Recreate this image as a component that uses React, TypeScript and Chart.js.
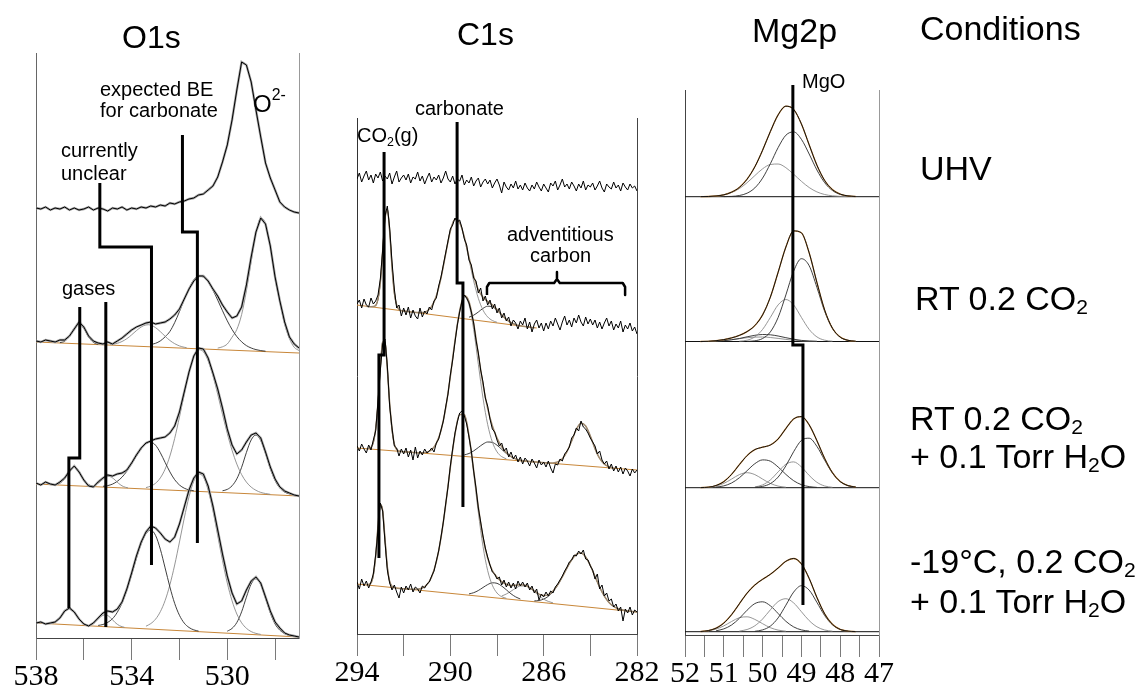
import React, { useEffect, useRef } from "react";
import { Chart, registerables } from "chart.js";

Chart.register(...registerables);

const SANS = "'Liberation Sans', Arial, Helvetica, sans-serif";
const SERIF = "'Liberation Serif', 'Times New Roman', serif";

// ================= O1s (binding energy grid 538 -> 527, step 0.2 eV) =================
const O1S_START = 538;
const O1S_STEP = -0.2;
const O1S_TICKS = [538, 536, 534, 532, 530, 528];
const O1S_LABELS = [538, 534, 530];

const O1S_UHV = [430, 429, 431, 428, 430, 429, 431, 428, 430, 428, 429, 431, 428, 430, 429, 427, 430, 429, 431, 428,
  430, 429, 431, 430, 432, 431, 433, 432, 435, 434, 436, 437, 439, 440, 443, 444, 448, 452, 461, 476,
  493, 518, 548, 576, 573, 556, 528, 501, 475, 460, 448, 436, 431, 428, 426, 425];
const O1S_RT = [297, 296, 298, 297, 296, 298, 298, 302, 309, 316, 311, 302, 297, 295, 294, 296, 294, 297, 300, 304,
  308, 311, 313, 315, 316, 314, 315, 316, 319, 323, 329, 339, 349, 357, 362, 362, 357, 349, 342, 333,
  326, 320, 322, 331, 353, 381, 406, 420, 414, 392, 361, 337, 316, 301, 294, 290];
const O1S_H2O = [155, 153, 156, 154, 153, 156, 160, 167, 172, 166, 158, 152, 151, 156, 160, 163, 162, 164, 165, 168,
  175, 183, 190, 195, 197, 199, 200, 201, 205, 212, 226, 246, 266, 282, 290, 289, 280, 265, 249, 230,
  209, 193, 184, 188, 196, 203, 205, 200, 186, 171, 159, 151, 147, 145, 143, 142];
const O1S_LT = [15, 16, 14, 15, 16, 20, 27, 30, 26, 19, 14, 12, 15, 20, 25, 27, 26, 29, 36, 49,
  65, 82, 96, 106, 112, 110, 105, 99, 96, 101, 114, 131, 148, 160, 166, 164, 152, 132, 108, 84,
  62, 45, 34, 37, 48, 57, 61, 55, 41, 27, 16, 10, 5, 3, 2, 1];

const O1S_RT_BASE = [[538, 296], [527, 285]];
const O1S_RT_GAS = [[537.0, 295.3], [536.8, 296.8], [536.6, 301.8], [536.4, 309.9], [536.2, 314.2], [536.0, 309.5], [535.8, 301], [535.6, 295.6], [535.4, 293.7]];
const O1S_RT_BROAD = [[534.9, 293.5], [534.7, 294.1], [534.5, 295.5], [534.3, 297.8], [534.1, 301.1], [533.9, 305.3], [533.7, 309.3], [533.5, 312.3], [533.3, 313.3], [533.1, 311.9], [532.9, 308.5], [532.7, 304.1], [532.5, 299.5], [532.3, 295.8], [532.1, 293.1], [531.9, 291.3], [531.7, 290.3]];
const O1S_RT_CARB = [[533.2, 293.5], [533.0, 294.7], [532.8, 297.1], [532.6, 301.2], [532.4, 306.6], [532.2, 315.4], [532.0, 326.4], [531.8, 338.4], [531.6, 349.7], [531.4, 358.2], [531.2, 362], [531.0, 360.8], [530.8, 355.9], [530.6, 347.8], [530.4, 337.9], [530.2, 327.3], [530.0, 317.2], [529.8, 308.5], [529.6, 301.4], [529.4, 296.2], [529.2, 292.4], [529.0, 290], [528.8, 288.4], [528.6, 287.4], [528.4, 286.8]];
const O1S_RT_OX = [[530.4, 289.9], [530.2, 291.2], [530.0, 294], [529.8, 300.8], [529.6, 308.6], [529.4, 323.4], [529.2, 347.2], [529.0, 376.4], [528.8, 405], [528.6, 419.9], [528.4, 414.5], [528.2, 391.1], [528.0, 359.2], [527.8, 335.8], [527.6, 313.6], [527.4, 299.4], [527.2, 290.7], [527.0, 287.5]];

const O1S_H2O_BASE = [[538, 154], [527, 142]];
const O1S_H2O_GAS = [[537.2, 153.4], [537.0, 154.8], [536.8, 159.5], [536.6, 167.2], [536.4, 171.3], [536.2, 166.7], [536.0, 158.6], [535.8, 153.5], [535.6, 151.7]];
const O1S_H2O_SMALL = [[535.55, 152.8], [535.35, 155.6], [535.15, 159.7], [534.95, 161.6], [534.75, 159.2], [534.55, 154.7], [534.35, 151.5], [534.15, 150.1]];
const O1S_H2O_BROAD = [[535.2, 151.7], [535.0, 152.4], [534.8, 153.9], [534.6, 156.7], [534.4, 160.9], [534.2, 166.8], [534.0, 174.1], [533.8, 182], [533.6, 189.1], [533.4, 194.1], [533.2, 195.8], [533.0, 192.8], [532.8, 185.3], [532.6, 175.6], [532.4, 166.1], [532.2, 158.3], [532.0, 153], [531.8, 149.8], [531.6, 148.1], [531.4, 147.2]];
const O1S_H2O_CARB = [[533.4, 150.4], [533.2, 151.9], [533.0, 154.7], [532.8, 160.1], [532.6, 168.9], [532.4, 182], [532.2, 199.6], [532.0, 220.9], [531.8, 243.7], [531.6, 265], [531.4, 281], [531.2, 288.3], [531.0, 286.3], [530.8, 277.1], [530.6, 262.2], [530.4, 243.7], [530.2, 223.7], [530.0, 204.6], [529.8, 187.7], [529.6, 173.9], [529.4, 163.4], [529.2, 155.9], [529.0, 150.9], [528.8, 147.7], [528.6, 145.6], [528.4, 144.5], [528.2, 143.7]];
const O1S_H2O_OX = [[530.2, 147.2], [530.0, 148.6], [529.8, 152.2], [529.6, 159.2], [529.4, 170.7], [529.2, 185.5], [529.0, 198.1], [528.8, 203], [528.6, 197.6], [528.4, 184.6], [528.2, 169.4], [528.0, 157.5], [527.8, 150], [527.6, 145.9], [527.4, 144.1], [527.2, 143]];

const O1S_LT_BASE = [[538, 15], [527, 1]];
const O1S_LT_GAS = [[537.4, 14.5], [537.2, 15.7], [537.0, 19.8], [536.8, 26.7], [536.6, 30.2], [536.4, 26.2], [536.2, 18.8], [536.0, 14.2], [535.8, 12.5]];
const O1S_LT_SMALL = [[535.7, 13.7], [535.5, 16.7], [535.3, 21.1], [535.1, 23.3], [534.9, 20.7], [534.7, 15.7], [534.5, 12.2], [534.3, 10.7]];
const O1S_LT_BROAD = [[535.4, 12.6], [535.2, 13.5], [535.0, 15.6], [534.8, 19.3], [534.6, 25.7], [534.4, 35.1], [534.2, 47.9], [534.0, 63.3], [533.8, 79.7], [533.6, 94.2], [533.4, 104.4], [533.2, 107.9], [533.0, 102.6], [532.8, 88.8], [532.6, 70.1], [532.4, 51], [532.2, 34.6], [532.0, 22.7], [531.8, 14.9], [531.6, 10.5], [531.4, 8.1], [531.2, 6.9]];
const O1S_LT_CARB = [[533.4, 11.8], [533.2, 14.4], [533.0, 18.8], [532.8, 26.3], [532.6, 37.5], [532.4, 53.2], [532.2, 73], [532.0, 96], [531.8, 119.8], [531.6, 141.2], [531.4, 156.9], [531.2, 164], [531.0, 161.1], [530.8, 147.8], [530.6, 127.2], [530.4, 102.3], [530.2, 77.5], [530.0, 55.1], [529.8, 37.2], [529.6, 24], [529.4, 15.2], [529.2, 9.7], [529.0, 6.4], [528.8, 4.6], [528.6, 3.6]];
const O1S_LT_OX = [[530.0, 6.8], [529.8, 9.6], [529.6, 15.5], [529.4, 26.2], [529.2, 40.8], [529.0, 54], [528.8, 59.3], [528.6, 53.5], [528.4, 39.8], [528.2, 25.1], [528.0, 14], [527.8, 7.8], [527.6, 4.3], [527.4, 2.6]];

const O1S_MARK_CARB = [[531.875, 503], [531.875, 406], [531.25, 406], [531.25, 95]];
const O1S_MARK_UNCLEAR = [[535.33, 455], [535.33, 391], [533.17, 391], [533.17, 73]];
const O1S_MARK_GAS1 = [[536.17, 331], [536.17, 180], [536.625, 180], [536.625, 30]];
const O1S_MARK_GAS2 = [[535.08, 336], [535.08, 11]];

// ================= C1s (grid 294 -> 282, step 0.1 eV) =================
const C1S_START = 294;
const C1S_STEP = -0.1;
const C1S_TICKS = [294, 292, 290, 288, 286, 284, 282];
const C1S_LABELS = [294, 290, 286, 282];

const C1S_UHV = [455, 461, 452, 458, 463, 454, 459, 451, 460, 456, 462,
  453, 458, 455, 461, 450, 457, 463, 452, 456, 459,
  454, 460, 451, 457, 455, 462, 453, 458, 450, 456,
  461, 452, 457, 454, 459, 451, 456, 463, 455, 452,
  458, 450, 455, 453, 459, 449, 454, 451, 457, 448,
  453, 456, 447, 452, 455, 450, 454, 446, 451, 455,
  449, 441, 452, 447, 444, 450, 446, 453, 445, 449,
  444, 451, 446, 443, 449, 445, 452, 447, 443, 450,
  446, 442, 451, 448, 453, 444, 449, 455, 447, 450,
  445, 452, 448, 443, 450, 446, 453, 444, 449, 447,
  451, 444, 448, 453, 446, 442, 450, 447, 445, 452,
  446, 449, 443, 451, 447, 444, 450, 446, 448, 443];
const C1S_RT = [330, 334, 326, 335, 329, 327, 336, 330, 333, 339, 355,
  384, 418, 428, 406, 372, 345, 326, 329, 318, 326,
  319, 327, 316, 324, 318, 315, 326, 317, 323, 320,
  327, 324, 333, 336, 348, 357, 369, 381, 393, 405,
  409, 416, 412, 414, 406, 395, 389, 374, 369, 356,
  353, 341, 346, 333, 338, 329, 334, 325, 330, 321,
  326, 316, 321, 313, 317, 308, 314, 311, 305, 313,
  309, 316, 305, 312, 302, 310, 314, 306, 311, 303,
  311, 305, 313, 308, 316, 310, 304, 312, 318, 309,
  314, 307, 316, 311, 319, 312, 308, 317, 310, 315,
  309, 314, 306, 312, 305, 311, 316, 308, 313, 304,
  310, 306, 313, 302, 309, 305, 311, 303, 307, 300];
const C1S_H2O = [188, 183, 190, 185, 181, 189, 184, 194, 203, 233, 264,
  290, 295, 268, 228, 206, 188, 186, 178, 185, 180,
  186, 177, 184, 174, 187, 176, 183, 179, 185, 181,
  183, 186, 182, 191, 195, 204, 213, 227, 240, 259,
  274, 292, 309, 322, 333, 339, 336, 331, 322, 311,
  294, 281, 264, 252, 236, 228, 215, 205, 202, 194,
  188, 191, 183, 186, 177, 182, 175, 179, 172, 177,
  170, 176, 173, 168, 175, 171, 166, 174, 169, 172,
  167, 173, 166, 161, 170, 169, 175, 173, 180, 183,
  187, 196, 199, 206, 203, 213, 207, 205, 201, 196,
  192, 188, 180, 183, 174, 170, 173, 165, 170, 163,
  168, 162, 167, 160, 166, 163, 158, 165, 161, 164];
const C1S_LT = [52, 45, 55, 48, 53, 46, 52, 60, 79, 104, 131,
  123, 92, 64, 51, 44, 49, 42, 36, 47, 41,
  48, 44, 50, 42, 47, 45, 41, 48, 46, 50,
  52, 58, 63, 73, 83, 97, 112, 130, 147, 168,
  185, 201, 212, 221, 223, 218, 210, 197, 183, 163,
  146, 126, 112, 98, 86, 77, 69, 62, 60, 55,
  57, 49, 54, 47, 52, 46, 51, 45, 53, 48,
  52, 47, 51, 44, 48, 41, 45, 34, 40, 37,
  42, 38, 43, 41, 47, 50, 54, 58, 63, 67,
  72, 74, 79, 78, 83, 80, 84, 75, 74, 68,
  64, 55, 60, 45, 49, 38, 41, 33, 35, 27,
  30, 23, 27, 13, 25, 21, 27, 19, 24, 22];

const C1S_RT_BASE = [[294, 329], [286.3, 306]];
const C1S_RT_GAS = [[293.2, 328.4], [293.1, 334.5], [293.0, 351.8], [292.9, 382.7], [292.8, 414.9], [292.7, 424.4], [292.6, 402.8], [292.5, 367.8], [292.4, 341.2], [292.3, 328.6], [292.2, 324.5]];
const C1S_RT_CARB = [[291.0, 322.9], [290.8, 327.6], [290.6, 338.1], [290.4, 356.2], [290.2, 380.2], [290.0, 403], [289.8, 414.8], [289.6, 411.2], [289.4, 396.1], [289.2, 374.6], [289.0, 353.1], [288.8, 335.7], [288.6, 323.9], [288.4, 317.1], [288.2, 313.5], [288.0, 311.7]];
const C1S_RT_ADV = [[289.2, 316.8], [289.0, 318.8], [288.8, 322], [288.6, 325.6], [288.4, 327.8], [288.2, 327.2], [288.0, 323.8], [287.8, 319], [287.6, 314.6], [287.4, 311.4], [287.2, 309.4]];
const C1S_RT_FIT = [[293.6, 327.8], [293.4, 327.2], [293.2, 328.4], [293.0, 351.8], [292.9, 382.7], [292.8, 414.9], [292.7, 424.4], [292.6, 402.8], [292.5, 367.8], [292.4, 341.2], [292.2, 324.5], [292.0, 323], [291.6, 321.8], [291.2, 321.5], [291.0, 322.9], [290.8, 327.6], [290.6, 338.1], [290.4, 356.2], [290.2, 380.2], [290.0, 403], [289.8, 414.8], [289.6, 411.5], [289.4, 396.9], [289.2, 376.8], [289.0, 357.9], [288.8, 344.3], [288.6, 336.7], [288.4, 332.7], [288.2, 329.1], [288.0, 324.5], [287.8, 319.3], [287.6, 314.6], [287.4, 311.4], [287.2, 309.4], [287.0, 308.3], [286.8, 307.4], [286.4, 306.2]];

const C1S_H2O_BASE = [[294, 186], [282, 164]];
const C1S_H2O_GAS = [[293.4, 186.6], [293.3, 191.4], [293.2, 205], [293.1, 231.3], [293.0, 266.2], [292.9, 292], [292.8, 291.8], [292.7, 265.6], [292.6, 230.4], [292.5, 203.8], [292.4, 189.8], [292.3, 184.6]];
const C1S_H2O_CARB = [[291.0, 181.9], [290.8, 184.3], [290.6, 190.6], [290.4, 203.5], [290.2, 225.8], [290.0, 257.5], [289.8, 293.1], [289.6, 323.1], [289.4, 337], [289.2, 329.2], [289.0, 304.4], [288.8, 269.7], [288.6, 235.9], [288.4, 209.5], [288.2, 192], [288.0, 182.2], [287.8, 177.4], [287.6, 175.2]];
const C1S_H2O_ADV1 = [[289.4, 179.1], [289.2, 180.5], [289.0, 183.1], [288.8, 186.5], [288.6, 189.9], [288.4, 192], [288.2, 191.6], [288.0, 188.8], [287.8, 184.7], [287.6, 180.5], [287.4, 177.2], [287.2, 175.1]];
const C1S_H2O_ADV2 = [[285.4, 172.1], [285.2, 175.3], [285.0, 182.4], [284.8, 193.1], [284.6, 204.6], [284.4, 210.8], [284.2, 208], [284.0, 197.9], [283.8, 185.4], [283.6, 175.6], [283.4, 169.9], [283.2, 167.2]];
const C1S_H2O_FIT = [[293.6, 185.3], [293.4, 186.6], [293.2, 205], [293.1, 231.3], [293.0, 266.2], [292.9, 292], [292.8, 291.8], [292.7, 265.6], [292.6, 230.4], [292.4, 189.8], [292.2, 183], [292.0, 182.3], [291.6, 181.6], [291.2, 181.3], [291.0, 181.9], [290.8, 184.3], [290.6, 190.6], [290.4, 203.5], [290.2, 225.8], [290.0, 257.5], [289.8, 293.1], [289.6, 323.1], [289.4, 338.5], [289.2, 332.5], [289.0, 310.6], [288.8, 279.7], [288.6, 249.7], [288.4, 225.7], [288.2, 208.2], [288.0, 196], [287.8, 187.4], [287.6, 181.4], [287.4, 177.5], [287.2, 175.1], [287.0, 173.8], [286.6, 172.5], [286.2, 171.7], [285.8, 171], [285.6, 171.1], [285.4, 172.1], [285.2, 175.3], [285.0, 182.4], [284.8, 193.1], [284.6, 204.6], [284.4, 210.8], [284.2, 208], [284.0, 197.9], [283.8, 185.4], [283.6, 175.6], [283.4, 169.9], [283.2, 167.2], [283.0, 165.8]];

const C1S_LT_BASE = [[294, 50], [282, 22]];
const C1S_LT_GAS = [[293.4, 50.9], [293.3, 58.3], [293.2, 77.8], [293.1, 107.9], [293.0, 129.5], [292.9, 123.2], [292.8, 94.7], [292.7, 67.1], [292.6, 52.5], [292.5, 47.6]];
const C1S_LT_CARB = [[291.4, 44.8], [291.2, 46], [291.0, 49.4], [290.8, 57.3], [290.6, 72.3], [290.4, 96.4], [290.2, 129.2], [290.0, 166.6], [289.8, 199.9], [289.6, 219.5], [289.4, 218.9], [289.2, 196.8], [289.0, 160.8], [288.8, 121.5], [288.6, 87.6], [288.4, 63.4], [288.2, 48.8], [288.0, 41], [287.8, 37.3], [287.6, 35.7]];
const C1S_LT_ADV1 = [[289.2, 40.1], [289.0, 41.3], [288.8, 43.5], [288.6, 46.5], [288.4, 49.4], [288.2, 51.2], [288.0, 50.7], [287.8, 48], [287.6, 44.2], [287.4, 40.2], [287.2, 37.1], [287.0, 35]];
const C1S_LT_ADV2 = [[287.8, 38], [287.6, 40], [287.4, 42.8], [287.2, 45.8], [287.0, 48], [286.8, 48.1], [286.6, 45.9], [286.4, 42.3], [286.2, 38.2], [286.0, 34.8], [285.8, 32.6], [285.6, 31.1]];
const C1S_LT_ADV3 = [[286.4, 33.1], [286.2, 33.5], [286.0, 34.9], [285.8, 37.7], [285.6, 42.3], [285.4, 48.8], [285.2, 57.2], [285.0, 66.1], [284.8, 74.2], [284.6, 79.6], [284.4, 81], [284.2, 77], [284.0, 68.5], [283.8, 57.5], [283.6, 46.7], [283.4, 37.9], [283.2, 31.5], [283.0, 27.5], [282.8, 25.2], [282.6, 23.9]];
const C1S_LT_FIT = [[293.6, 49.1], [293.4, 50.9], [293.2, 77.8], [293.1, 107.9], [293.0, 129.5], [292.9, 123.2], [292.8, 94.7], [292.7, 67.1], [292.6, 52.5], [292.4, 46.4], [292.0, 45.3], [291.6, 44.7], [291.4, 44.8], [291.2, 46], [291.0, 49.4], [290.8, 57.3], [290.6, 72.3], [290.4, 96.4], [290.2, 129.2], [290.0, 166.6], [289.8, 199.9], [289.6, 219.5], [289.4, 219.4], [289.2, 198.1], [289.0, 163.8], [288.8, 127.1], [288.6, 96.7], [288.4, 75.9], [288.2, 63.5], [288.0, 56.8], [287.8, 52.3], [287.6, 49.7], [287.4, 48.4], [287.2, 48.8], [287.0, 49.3], [286.8, 48.7], [286.6, 46.4], [286.4, 43.1], [286.2, 39.9], [286.0, 38.4], [285.8, 39.4], [285.6, 43], [285.4, 49.1], [285.2, 57.2], [285.0, 66.1], [284.8, 74.2], [284.6, 79.6], [284.4, 81], [284.2, 77], [284.0, 68.5], [283.8, 57.5], [283.6, 46.7], [283.4, 37.9], [283.2, 31.5], [283.0, 27.5], [282.8, 25.2], [282.6, 23.9], [282.0, 22]];

const C1S_MARK_CARB = [[289.71, 512], [289.71, 351], [289.46, 351], [289.46, 127]];
const C1S_MARK_CO2 = [[292.84, 482], [292.84, 279], [293.06, 279], [293.06, 76]];
const C1S_BRACE = [[288.43, 339], [288.43, 347], [288.33, 351], [285.55, 351], [285.43, 355], [285.43, 362], [285.43, 355], [285.31, 351], [282.61, 351], [282.51, 347], [282.51, 339]];

// ================= Mg2p (grid 51.6 -> 47.6, step 0.2 eV) =================
const MG_START = 51.6;
const MG_STEP = -0.2;
const MG_TICKS = [52, 51.5, 51, 50.5, 50, 49.5, 49, 48.5, 48, 47.5, 47];
const MG_LABELS = [52, 51, 50, 49, 48, 47];

const MG_UHV_FIT = [438.4, 438.5, 439, 440.2, 442.8, 447.6, 455.8, 468.2, 484.8, 503.5, 520.1, 528.8, 525.6, 511.1, 490.2, 469.8, 454.5, 445.4, 440.9, 439.1, 438.5];
const MG_UHV_BASE = 438.3;
const MG_UHV_A = [[51.0, 438.4], [50.8, 438.6], [50.6, 439.5], [50.4, 441.8], [50.2, 447.1], [50.0, 456.9], [49.8, 471.3], [49.6, 487.4], [49.4, 499.8], [49.2, 503.1], [49.0, 495.7], [48.8, 481], [48.6, 465], [48.4, 452.3], [48.2, 444.5], [48.0, 440.6], [47.8, 439], [47.6, 438.5]];
const MG_UHV_B = [[51.6, 438.4], [51.4, 438.5], [51.2, 439], [51.0, 440.1], [50.8, 442.5], [50.6, 446.4], [50.4, 452.3], [50.2, 459.4], [50.0, 466.2], [49.8, 470.5], [49.6, 471], [49.4, 467.3], [49.2, 460.8], [49.0, 453.7], [48.8, 447.5], [48.6, 443.1], [48.4, 440.5], [48.2, 439.2], [48.0, 438.6], [47.8, 438.4]];

const MG_RT_FIT = [293.5, 293.7, 294.3, 295.4, 297.1, 299.6, 303.4, 309.4, 320.1, 337.9, 362.7, 388, 404.1, 402.2, 382.2, 352.5, 324.9, 306.8, 297.9, 294.7, 293.7];
const MG_RT_BASE = 293.5;
const MG_RT_C1 = [[50.4, 293.6], [50.2, 294.2], [50.0, 296.5], [49.8, 303.1], [49.6, 317.5], [49.4, 340.1], [49.2, 363.9], [49.0, 376.3], [48.8, 369.3], [48.6, 347.6], [48.4, 323.6], [48.2, 306.5], [48.0, 297.9], [47.8, 294.7], [47.6, 293.7]];
const MG_RT_C2 = [[50.6, 293.8], [50.4, 294.8], [50.2, 298.1], [50.0, 305.6], [49.8, 317.6], [49.6, 330.1], [49.4, 335.5], [49.2, 330.1], [49.0, 317.6], [48.8, 305.6], [48.6, 298.1], [48.4, 294.8], [48.2, 293.8]];
const MG_RT_C3 = [[51.2, 293.8], [51.0, 294.3], [50.8, 295.2], [50.6, 296.5], [50.4, 298.2], [50.2, 299.7], [50.0, 300.5], [49.8, 300.2], [49.6, 299], [49.4, 297.3], [49.2, 295.8], [49.0, 294.6], [48.8, 294], [48.6, 293.7]];
const MG_RT_C4 = [[51.4, 293.7], [51.2, 294], [51.0, 294.6], [50.8, 295.4], [50.6, 296.3], [50.4, 297.3], [50.2, 297.9], [50.0, 298], [49.8, 297.5], [49.6, 296.6], [49.4, 295.6], [49.2, 294.8], [49.0, 294.2], [48.8, 293.8], [48.6, 293.6]];

const MG_H2O_FIT = [147.4, 147.8, 149.5, 153.4, 160.6, 170.3, 179.4, 185.4, 187.8, 190, 196, 206.5, 216.1, 218.4, 210.2, 194.3, 176.5, 162.3, 153.5, 149.4, 147.9];
const MG_H2O_BASE = 147.3;
const MG_H2O_D1 = [[50.2, 147.6], [50.0, 148.6], [49.8, 151.4], [49.6, 157.9], [49.4, 169.2], [49.2, 183.3], [49.0, 194.6], [48.8, 196.8], [48.6, 188.6], [48.4, 174.8], [48.2, 161.9], [48.0, 153.5], [47.8, 149.4], [47.6, 147.9]];
const MG_H2O_D2 = [[50.2, 148], [50.0, 150.1], [49.8, 155.1], [49.6, 163.1], [49.4, 170.8], [49.2, 173.1], [49.0, 168.1], [48.8, 159.6], [48.6, 152.7], [48.4, 149], [48.2, 147.7]];
const MG_H2O_D3 = [[51.2, 147.9], [51.0, 149.1], [50.8, 152], [50.6, 157.2], [50.4, 164.3], [50.2, 171.3], [50.0, 175.1], [49.8, 173.8], [49.6, 168], [49.4, 160.6], [49.2, 154.3], [49.0, 150.3], [48.8, 148.4], [48.6, 147.6]];
const MG_H2O_D4 = [[51.6, 147.4], [51.4, 147.8], [51.2, 148.9], [51.0, 151.6], [50.8, 155.9], [50.6, 160.4], [50.4, 162.3], [50.2, 160.4], [50.0, 155.9], [49.8, 151.6], [49.6, 148.9], [49.4, 147.8]];

const MG_LT_FIT = [3.5, 4.4, 6.8, 11.9, 20.3, 31.2, 41.9, 50, 55.7, 60.7, 67, 73.7, 76.5, 71.1, 56.6, 37.5, 21.1, 10.7, 5.6, 3.9, 3.4];
const MG_LT_BASE = 3.3;
const MG_LT_E1 = [[50.2, 3.7], [50.0, 5.1], [49.8, 8.9], [49.6, 17.1], [49.4, 29.8], [49.2, 42.9], [49.0, 49.3], [48.8, 44.9], [48.6, 32.6], [48.4, 19.4], [48.2, 10.2], [48.0, 5.6], [47.8, 3.9]];
const MG_LT_E2 = [[50.6, 3.9], [50.4, 5.5], [50.2, 9.2], [50.0, 16], [49.8, 25.2], [49.6, 33.4], [49.4, 36.3], [49.2, 32.1], [49.0, 23.3], [48.8, 14.4], [48.6, 8.2], [48.4, 5], [48.2, 3.8]];
const MG_LT_E3 = [[51.2, 4.2], [51.0, 6.1], [50.8, 10], [50.6, 16.6], [50.4, 24.8], [50.2, 31.4], [50.0, 33.2], [49.8, 29.2], [49.6, 21.5], [49.4, 13.7], [49.2, 8.1], [49.0, 5.1], [48.8, 3.9]];
const MG_LT_E4 = [[51.4, 4.2], [51.2, 5.9], [51.0, 9.1], [50.8, 13.5], [50.6, 17.3], [50.4, 18.2], [50.2, 15.6], [50.0, 11.3], [49.8, 7.3], [49.6, 4.9], [49.4, 3.8]];

const MG_MARK = [[49.22, 550], [49.22, 290], [48.96, 290], [48.96, 30]];

// ================= helpers =================
const onGrid = (start: number, step: number, ys: number[]) =>
  ys.map((y, i) => ({ x: Math.round((start + i * step) * 1000) / 1000, y }));
const pts = (p: number[][]) => p.map(([x, y]) => ({ x, y }));
const hline = (v: number, a: number, b: number) => [{ x: a, y: v }, { x: b, y: v }];

const ORANGE = "#c8873a";

const ds = (data: any[], color: string, width: number, order: number, extra: any = {}) => ({
  data,
  borderColor: color,
  borderWidth: width,
  pointRadius: 0,
  fill: false,
  tension: 0,
  order,
  ...extra,
});
const mark = (p: number[][], extra: any = {}) =>
  ds(pts(p), "#000", 3, 0, { borderJoinStyle: "miter", borderCapStyle: "butt", ...extra });
const raw = (data: any[]) => ds(data, "#000", 1, 1);
const rawUnder = (data: any[]) => ds(data, "#a6a6a6", 2.4, 2);
const fit = (p: any[]) => ds(p, "#a08a6e", 1.5, 3, { cubicInterpolationMode: "monotone" });
const comp = (p: number[][], i: number) =>
  ds(pts(p), i % 2 ? "#8a8a8a" : "#2a2a2a", 0.9, 4, { cubicInterpolationMode: "monotone" });
const base = (p: number[][]) => ds(pts(p), ORANGE, 1.2, 5);

function makeConfig(p: any) {
  return {
    type: "line",
    data: { datasets: p.datasets },
    options: {
      animation: false,
      responsive: false,
      events: [],
      layout: { padding: p.padding },
      plugins: { legend: { display: false }, tooltip: { enabled: false } },
      scales: {
        x: {
          type: "linear",
          min: p.min,
          max: p.max,
          reverse: true,
          afterBuildTicks: (s: any) => {
            s.ticks = p.ticks.map((v: number) => ({ value: v }));
          },
          afterFit: (s: any) => {
            s.height = 50;
          },
          ticks: {
            callback: (v: number) => (p.labels.includes(v) ? String(v) : ""),
            font: { family: SERIF, size: 30, lineHeight: 1 },
            color: "#000",
            padding: 2,
            autoSkip: false,
            maxRotation: 0,
            minRotation: 0,
          },
          grid: { drawOnChartArea: false, drawTicks: true, tickLength: 22, color: "#7a7a7a", lineWidth: 1 },
          border: { display: true, color: "#444", width: 1 },
        },
        y: {
          type: "linear",
          position: "left",
          min: 0,
          max: p.ymax,
          ticks: { display: false },
          grid: { display: false },
          border: { display: true, color: p.leftColor, width: 1 },
          afterFit: (s: any) => {
            s.width = 0;
          },
        },
        y2: {
          type: "linear",
          position: "right",
          min: 0,
          max: 1,
          ticks: { display: false },
          grid: { display: false },
          border: { display: true, color: p.rightColor, width: 1 },
          afterFit: (s: any) => {
            s.width = 0;
          },
        },
      },
    },
  };
}

function o1sConfig() {
  const g = (ys: number[]) => onGrid(O1S_START, O1S_STEP, ys);
  const sets = [
    mark(O1S_MARK_CARB), mark(O1S_MARK_UNCLEAR), mark(O1S_MARK_GAS1), mark(O1S_MARK_GAS2),
    raw(g(O1S_UHV)), raw(g(O1S_RT)), raw(g(O1S_H2O)), raw(g(O1S_LT)),
    rawUnder(g(O1S_UHV)), rawUnder(g(O1S_RT)), rawUnder(g(O1S_H2O)), rawUnder(g(O1S_LT)),
    ...[O1S_RT_GAS, O1S_RT_BROAD, O1S_RT_CARB, O1S_RT_OX].map(comp),
    ...[O1S_H2O_GAS, O1S_H2O_SMALL, O1S_H2O_BROAD, O1S_H2O_CARB, O1S_H2O_OX].map(comp),
    ...[O1S_LT_GAS, O1S_LT_SMALL, O1S_LT_BROAD, O1S_LT_CARB, O1S_LT_OX].map(comp),
    base(O1S_RT_BASE), base(O1S_H2O_BASE), base(O1S_LT_BASE),
  ];
  return makeConfig({
    datasets: sets,
    padding: { left: 36, right: 1143 - 299, top: 53, bottom: 692 - 638 - 50 },
    min: 527, max: 538, ymax: 585,
    ticks: O1S_TICKS, labels: O1S_LABELS,
    leftColor: "#666", rightColor: "#999",
  });
}

function c1sConfig() {
  const g = (ys: number[]) => onGrid(C1S_START, C1S_STEP, ys);
  const sets = [
    mark(C1S_MARK_CARB), mark(C1S_MARK_CO2), mark(C1S_BRACE, { borderWidth: 2.5, borderJoinStyle: "round" }),
    raw(g(C1S_UHV)), raw(g(C1S_RT)), raw(g(C1S_H2O)), raw(g(C1S_LT)),
    fit(pts(C1S_RT_FIT)), fit(pts(C1S_H2O_FIT)), fit(pts(C1S_LT_FIT)),
    ...[C1S_RT_GAS, C1S_RT_CARB, C1S_RT_ADV].map(comp),
    ...[C1S_H2O_GAS, C1S_H2O_CARB, C1S_H2O_ADV1, C1S_H2O_ADV2].map(comp),
    ...[C1S_LT_GAS, C1S_LT_CARB, C1S_LT_ADV1, C1S_LT_ADV2, C1S_LT_ADV3].map(comp),
    base(C1S_RT_BASE), base(C1S_H2O_BASE), base(C1S_LT_BASE),
  ];
  return makeConfig({
    datasets: sets,
    padding: { left: 357, right: 1143 - 637, top: 118, bottom: 692 - 634 - 50 },
    min: 282, max: 294, ymax: 516,
    ticks: C1S_TICKS, labels: C1S_LABELS,
    leftColor: "#333", rightColor: "#444",
  });
}

function mgConfig() {
  const g = (ys: number[]) => onGrid(MG_START, MG_STEP, ys);
  const env = (ys: number[]) => ds(g(ys), "#111", 1, 1, { cubicInterpolationMode: "monotone" });
  const envUnder = (ys: number[]) => ds(g(ys), ORANGE, 1.3, 2, { cubicInterpolationMode: "monotone" });
  const bl = (v: number) => ds(hline(v, 52, 47), "#111", 1, 5);
  const sets = [
    mark(MG_MARK, { clip: false }),
    env(MG_UHV_FIT), env(MG_RT_FIT), env(MG_H2O_FIT), env(MG_LT_FIT),
    envUnder(MG_UHV_FIT), envUnder(MG_RT_FIT), envUnder(MG_H2O_FIT), envUnder(MG_LT_FIT),
    ...[MG_UHV_A, MG_UHV_B].map(comp),
    ...[MG_RT_C1, MG_RT_C2, MG_RT_C3, MG_RT_C4].map(comp),
    ...[MG_H2O_D1, MG_H2O_D2, MG_H2O_D3, MG_H2O_D4].map(comp),
    ...[MG_LT_E1, MG_LT_E2, MG_LT_E3, MG_LT_E4].map(comp),
    bl(MG_UHV_BASE), bl(MG_RT_BASE), bl(MG_H2O_BASE), bl(MG_LT_BASE),
  ];
  return makeConfig({
    datasets: sets,
    padding: { left: 685, right: 1143 - 879, top: 90, bottom: 692 - 635 - 50 },
    min: 47, max: 52, ymax: 545,
    ticks: MG_TICKS, labels: MG_LABELS,
    leftColor: "#444", rightColor: "#999",
  });
}

function ChartLayer({ make }: { make: () => any }) {
  const ref = useRef<HTMLCanvasElement>(null);
  useEffect(() => {
    const chart = new Chart(ref.current as HTMLCanvasElement, make());
    return () => chart.destroy();
  }, []);
  return (
    <canvas
      ref={ref}
      width={1143}
      height={692}
      style={{ position: "absolute", left: 0, top: 0, width: 1143, height: 692 }}
    />
  );
}

function T({ x, y, s, children }: { x: number; y: number; s: number; children: any }) {
  return (
    <div
      style={{
        position: "absolute",
        left: x,
        top: y - 0.8465 * s,
        fontSize: s,
        lineHeight: `${s}px`,
        fontFamily: SANS,
        whiteSpace: "nowrap",
        color: "#000",
      }}
    >
      {children}
    </div>
  );
}
const Sub = ({ children }: any) => (
  <span style={{ fontSize: "0.62em", lineHeight: 0, verticalAlign: "-4px" }}>{children}</span>
);
const Sup = ({ children }: any) => (
  <span style={{ fontSize: "0.66em", lineHeight: 0, verticalAlign: "12px" }}>{children}</span>
);

export default function App() {
  return (
    <div
      style={{
        position: "fixed",
        left: 0,
        top: 0,
        width: 1143,
        height: 692,
        background: "#fff",
        overflow: "hidden",
      }}
    >
      <ChartLayer make={o1sConfig} />
      <ChartLayer make={c1sConfig} />
      <ChartLayer make={mgConfig} />

      <T x={122} y={48} s={32}>O1s</T>
      <T x={457} y={45} s={32}>C1s</T>
      <T x={752} y={42} s={34}>Mg2p</T>
      <T x={920} y={40} s={34}>Conditions</T>

      <T x={920} y={180} s={34}>UHV</T>
      <T x={915} y={310} s={34}>RT 0.2 CO<Sub>2</Sub></T>
      <T x={910} y={430} s={34}>RT 0.2 CO<Sub>2</Sub></T>
      <T x={910} y={468} s={34}>+ 0.1 Torr H<Sub>2</Sub>O</T>
      <T x={910} y={573} s={34}>-19°C, 0.2 CO<Sub>2</Sub></T>
      <T x={910} y={613} s={34}>+ 0.1 Torr H<Sub>2</Sub>O</T>

      <T x={100} y={96} s={20}>expected BE</T>
      <T x={100} y={117} s={20}>for carbonate</T>
      <T x={253} y={112} s={24}>O<Sup>2-</Sup></T>
      <T x={61} y={157} s={20}>currently</T>
      <T x={61} y={180} s={20}>unclear</T>
      <T x={62} y={295} s={20}>gases</T>

      <T x={415} y={115} s={20}>carbonate</T>
      <T x={357} y={142} s={20}>CO<Sub>2</Sub>(g)</T>
      <T x={507} y={241} s={20}>adventitious</T>
      <T x={530} y={262} s={20}>carbon</T>

      <T x={802} y={88} s={20}>MgO</T>
    </div>
  );
}
